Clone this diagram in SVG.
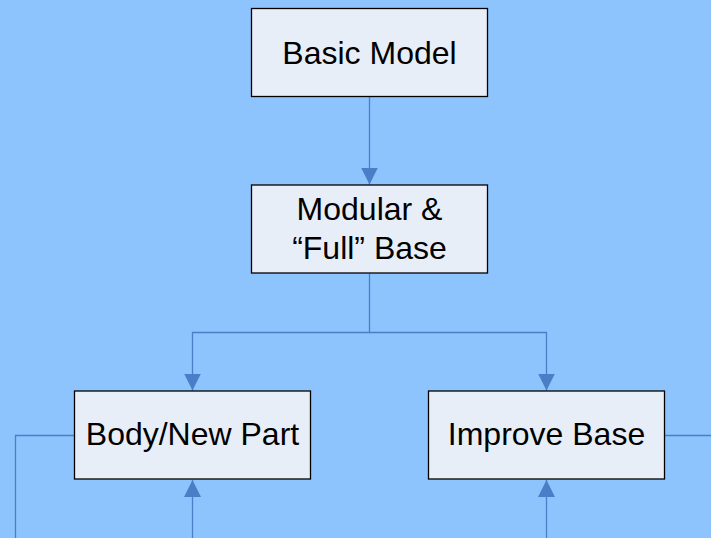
<svg xmlns="http://www.w3.org/2000/svg" width="711" height="538" viewBox="0 0 711 538">
  <defs>
    <style>
      .box { fill: #E8EEF8; stroke: #000; stroke-width: 1.3; }
      .lbl { font-family: "Liberation Sans", Arial, sans-serif; font-size: 32px; fill: #000; text-anchor: middle; }
      .wire { fill: none; stroke: #4A7EC6; stroke-width: 1.3; }
    </style>
    <marker id="arrow" viewBox="0 0 17 17" refX="17" refY="8.5" markerWidth="17" markerHeight="17" markerUnits="userSpaceOnUse" orient="auto">
      <path d="M0,0 L17,8.5 L0,17 Z" fill="#4A7EC6"/>
    </marker>
  </defs>
  <rect width="711" height="538" fill="#8DC4FE"/>

  <g id="connectors">
    <path class="wire" d="M369.5,96.5 V184.5" marker-end="url(#arrow)"/>
    <path class="wire" d="M369.5,273.5 V332.5 H192.5 V390.5" marker-end="url(#arrow)"/>
    <path class="wire" d="M369.5,332.5 H546.5 V390.5" marker-end="url(#arrow)"/>
    <path class="wire" d="M74,435.5 H15.5 V538"/>
    <path class="wire" d="M664,435.5 H711"/>
    <path class="wire" d="M192.5,538 V480" marker-end="url(#arrow)"/>
    <path class="wire" d="M546.5,538 V480" marker-end="url(#arrow)"/>
  </g>

  <g id="basic-model">
    <rect class="box" x="251.5" y="8.5" width="236" height="88"/>
    <text class="lbl" x="369.5" y="63.5">Basic Model</text>
  </g>

  <g id="modular-base">
    <rect class="box" x="251.5" y="185" width="236" height="88"/>
    <text class="lbl" x="369.5" y="220">Modular &amp;</text>
    <text class="lbl" x="369.5" y="259">“Full” Base</text>
  </g>

  <g id="body-new-part">
    <rect class="box" x="74.5" y="391" width="236" height="88"/>
    <text class="lbl" x="192.5" y="444.5">Body/New Part</text>
  </g>

  <g id="improve-base">
    <rect class="box" x="428.5" y="391" width="236" height="88"/>
    <text class="lbl" x="546.5" y="445">Improve Base</text>
  </g>
</svg>
